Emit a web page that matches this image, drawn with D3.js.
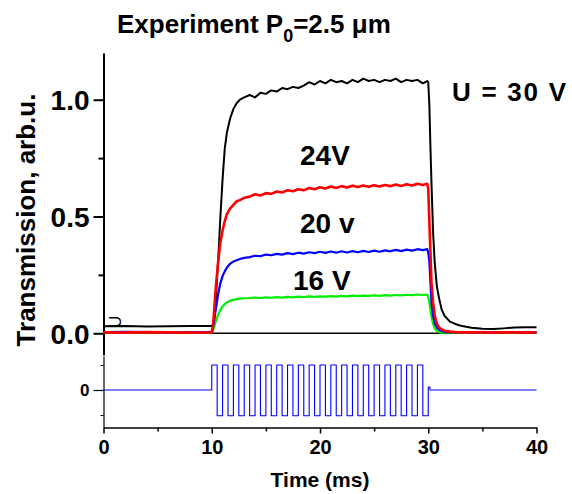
<!DOCTYPE html>
<html>
<head>
  <meta charset="utf-8">
  <script src="https://d3js.org/d3.v7.min.js"></script>
  <style>
    body { margin: 0; background: #fff; }
    text { font-family: "Liberation Sans", Arial, sans-serif; font-weight: bold; fill: #000; }
    .axis path, .axis line { stroke: #000; }
    .trace { fill: none; stroke-linejoin: round; }
  </style>
</head>
<body>
<script>
  // sample times (ms) shared by the four transmission traces
  const time = [0, 2, 4, 6, 8, 9.9,
    10, 10.1, 10.2, 10.3, 10.4, 10.6, 10.8, 11, 11.2, 11.4, 11.7, 12, 12.3, 12.6, 13,
    13.5, 14, 14.5, 15, 15.5, 16, 16.5, 17, 17.5, 18, 18.5, 19, 19.5, 20, 20.5, 21, 21.5,
    22, 22.5, 23, 23.5, 24, 24.5, 25, 25.5, 26, 26.5, 27, 27.5, 28, 28.5, 29, 29.5,
    29.9, 30, 30.1, 30.2, 30.3, 30.45, 30.6, 30.8, 31, 31.25, 31.5, 32, 32.5, 33, 34, 35, 36, 37, 38, 39, 40];

  const u30 = [0.030, 0.031, 0.029, 0.030, 0.031, 0.031,
    0.031, 0.035, 0.05, 0.09, 0.16, 0.32, 0.50, 0.66, 0.79, 0.86, 0.92, 0.96, 0.985, 1.0, 1.01,
    1.02, 1.01, 1.03, 1.025, 1.04, 1.035, 1.05, 1.045, 1.055, 1.05, 1.06, 1.075, 1.065, 1.08, 1.07, 1.085, 1.075,
    1.08, 1.07, 1.085, 1.075, 1.09, 1.08, 1.085, 1.075, 1.085, 1.08, 1.09, 1.075, 1.085, 1.08, 1.085, 1.07,
    1.08, 1.075, 0.98, 0.80, 0.64, 0.43, 0.30, 0.20, 0.15, 0.10, 0.075, 0.05, 0.04, 0.032, 0.024, 0.019, 0.018, 0.021, 0.025, 0.026, 0.026];

  const u24 = [0.004, 0.003, 0.005, 0.004, 0.003, 0.004,
    0.004, 0.03, 0.08, 0.15, 0.21, 0.31, 0.39, 0.44, 0.48, 0.51, 0.535, 0.55, 0.565, 0.57, 0.58,
    0.585, 0.595, 0.59, 0.6, 0.597, 0.607, 0.603, 0.612, 0.608, 0.617, 0.612, 0.622, 0.617, 0.625, 0.62, 0.628, 0.622,
    0.63, 0.624, 0.632, 0.626, 0.633, 0.627, 0.634, 0.628, 0.635, 0.63, 0.637, 0.631, 0.638, 0.633, 0.64, 0.635,
    0.64, 0.62, 0.48, 0.35, 0.21, 0.13, 0.075, 0.04, 0.025, 0.016, 0.011, 0.007, 0.005, 0.004, 0.004, 0.004, 0.003, 0.004, 0.004, 0.003, 0.004];

  const u20 = [0.005, 0.006, 0.005, 0.004, 0.005, 0.005,
    0.005, 0.02, 0.05, 0.08, 0.11, 0.17, 0.215, 0.245, 0.265, 0.282, 0.298, 0.307, 0.313, 0.318, 0.323,
    0.326, 0.332, 0.33, 0.337, 0.334, 0.34, 0.337, 0.343, 0.339, 0.345, 0.341, 0.347, 0.343, 0.349, 0.344, 0.35, 0.345,
    0.351, 0.346, 0.352, 0.347, 0.353, 0.348, 0.354, 0.349, 0.355, 0.351, 0.357, 0.352, 0.358, 0.354, 0.36, 0.356,
    0.36, 0.345, 0.31, 0.22, 0.13, 0.075, 0.043, 0.025, 0.015, 0.01, 0.007, 0.005, 0.005, 0.005, 0.005, 0.004, 0.005, 0.005, 0.005, 0.004, 0.005];

  const u16 = [0.003, 0.003, 0.003, 0.003, 0.003, 0.003,
    0.003, 0.01, 0.025, 0.04, 0.055, 0.08, 0.1, 0.115, 0.125, 0.132, 0.14, 0.143, 0.146, 0.148, 0.15,
    0.151, 0.153, 0.151, 0.154, 0.152, 0.155, 0.153, 0.156, 0.154, 0.157, 0.155, 0.158, 0.156, 0.158, 0.157, 0.159, 0.157,
    0.16, 0.158, 0.161, 0.159, 0.161, 0.16, 0.162, 0.16, 0.163, 0.161, 0.164, 0.162, 0.165, 0.163, 0.166, 0.164,
    0.166, 0.155, 0.135, 0.1, 0.07, 0.04, 0.021, 0.01, 0.005, 0.003, 0.003, 0.003, 0.003, 0.003, 0.003, 0.003, 0.003, 0.003, 0.003, 0.003, 0.003];

  // flat reference trace at zero
  const zeroTime = [0, 40];
  const zeroLevel = [0, 0];

  // driving voltage (bipolar square wave, 1 kHz between 10 and 30 ms)
  const pulseTime = [0, 10, 10.5, 11, 11.5, 12, 12.5, 13, 13.5, 14, 14.5, 15, 15.5, 16, 16.5, 17, 17.5,
    18, 18.5, 19, 19.5, 20, 20.5, 21, 21.5, 22, 22.5, 23, 23.5, 24, 24.5, 25, 25.5, 26, 26.5, 27, 27.5,
    28, 28.5, 29, 29.5, 30, 30.15, 40];
  const pulseLevel = [0, 1, -1.03, 1, -1.03, 1, -1.03, 1, -1.03, 1, -1.03, 1, -1.03, 1, -1.03, 1, -1.03,
    1, -1.03, 1, -1.03, 1, -1.03, 1, -1.03, 1, -1.03, 1, -1.03, 1, -1.03, 1, -1.03, 1, -1.03, 1, -1.03,
    1, -1.03, 1, -1.03, 0.12, 0, 0];

  const xTicks = [0, 10, 20, 30, 40];
  const xMinor = [5, 15, 25, 35];
  const yTicks = [0, 0.5, 1.0];
  const yMinor = [0.25, 0.75];

  const width = 572, height = 494;

  var svg = d3.select("body").append("svg")
    .attr("width", width)
    .attr("height", height);

  const x = d3.scaleLinear().domain([0, 40]).range([103.5, 536.5]);
  const y = d3.scaleLinear().domain([-0.093, 1.2]).range([355, 53]);
  const yP = d3.scaleLinear().domain([-1.48, 1.36]).range([427, 356]);

  // x axis (shared, at bottom of the pulse panel)
  svg.append("g").attr("class", "axis")
    .attr("transform", "translate(0,427.5)")
    .call(d3.axisBottom(x).tickValues(xMinor).tickSize(4).tickSizeOuter(0).tickFormat(""))
    .call(g => g.select(".domain").remove())
    .selectAll("line").attr("stroke-width", 1.5);
  svg.append("g").attr("class", "axis")
    .attr("transform", "translate(0,427.5)")
    .call(d3.axisBottom(x).tickValues(xTicks).tickSize(6).tickSizeOuter(0).tickPadding(6))
    .call(g => g.selectAll("line").attr("stroke-width", 1.5))
    .call(g => g.select(".domain").attr("stroke-width", 1.5))
    .selectAll("text").attr("font-size", "20px");

  // left axis, transmission panel
  svg.append("g").attr("class", "axis")
    .attr("transform", "translate(103.5,0)")
    .call(d3.axisLeft(y).tickValues(yMinor).tickSize(5).tickSizeOuter(0).tickFormat(""))
    .call(g => g.select(".domain").remove())
    .selectAll("line").attr("stroke-width", 2);
  svg.append("g").attr("class", "axis")
    .attr("transform", "translate(103.5,0)")
    .call(d3.axisLeft(y).tickValues(yTicks).tickSize(10).tickSizeOuter(0).tickPadding(4).tickFormat(d3.format(".1f")))
    .call(g => g.selectAll("line").attr("stroke-width", 2))
    .call(g => g.select(".domain").attr("stroke-width", 2))
    .selectAll("text").attr("font-size", "28px").attr("dy", "0.36em");

  // left axis, pulse panel
  svg.append("g").attr("class", "axis")
    .attr("transform", "translate(103.5,0)")
    .call(d3.axisLeft(yP).tickValues([-1, 1]).tickSize(3).tickSizeOuter(0).tickFormat(""))
    .call(g => g.select(".domain").attr("stroke-width", 1.2));
  svg.append("g").attr("class", "axis")
    .attr("transform", "translate(103.5,0)")
    .call(d3.axisLeft(yP).tickValues([0]).tickSize(10).tickSizeOuter(0).tickPadding(4).tickFormat(d3.format("d")))
    .call(g => g.select(".domain").remove())
    .call(g => g.selectAll("line").attr("stroke-width", 1.2))
    .selectAll("text").attr("font-size", "17px");

  const line = d3.line().x(d => x(d[0])).y(d => y(d[1]));
  const zip = (a, b) => a.map((t, i) => [t, b[i]]);

  svg.append("path").attr("class", "trace")
    .attr("d", line(zip(zeroTime, zeroLevel)))
    .attr("stroke", "#000").attr("stroke-width", 1.5);

  const traces = [
    {v: u30, color: "#000000", w: 2},
    {v: u16, color: "#00ee00", w: 2.2},
    {v: u20, color: "#0000ff", w: 2.2},
    {v: u24, color: "#ff0000", w: 2.6}
  ];
  traces.forEach(tr => {
    svg.append("path").attr("class", "trace")
      .attr("d", line(zip(time, tr.v)))
      .attr("stroke", tr.color)
      .attr("stroke-width", tr.w);
  });

  const pulseLine = d3.line().x(d => x(d[0])).y(d => yP(d[1])).curve(d3.curveStepAfter);
  svg.append("path").attr("class", "trace")
    .attr("d", pulseLine(zip(pulseTime, pulseLevel)))
    .attr("stroke", "#0000ff").attr("stroke-width", 1.1);

  // small rotated "U" marker on the 30 V baseline
  svg.append("text")
    .attr("transform", "translate(" + x(1.05) + "," + (y(0.03) - 4.5) + ") rotate(-90)")
    .attr("text-anchor", "middle")
    .attr("dy", "0.36em")
    .attr("font-size", "17px")
    .style("font-weight", "normal")
    .text("U");

  // labels
  const title = svg.append("text")
    .attr("x", 117).attr("y", 33)
    .attr("font-size", "26px");
  title.append("tspan").text("Experiment P");
  title.append("tspan").attr("dy", 9).attr("font-size", "18px").text("0");
  title.append("tspan").attr("dy", -9).text("=2.5 \u03bcm");

  svg.append("text").attr("x", 452).attr("y", 101).attr("font-size", "26px")
    .attr("textLength", 114).attr("lengthAdjust", "spacing").text("U = 30 V");
  svg.append("text").attr("x", 300).attr("y", 165).attr("font-size", "28px").text("24V");
  svg.append("text").attr("x", 300).attr("y", 232.5).attr("font-size", "28px").text("20 v");
  svg.append("text").attr("x", 293).attr("y", 290).attr("font-size", "28px").text("16 V");

  svg.append("text")
    .attr("transform", "translate(35,220) rotate(-90)")
    .attr("text-anchor", "middle")
    .attr("font-size", "26px")
    .text("Transmission, arb.u.");

  svg.append("text")
    .attr("x", x(20)).attr("y", 487)
    .attr("text-anchor", "middle")
    .attr("font-size", "21px")
    .text("Time (ms)");
</script>
</body>
</html>
